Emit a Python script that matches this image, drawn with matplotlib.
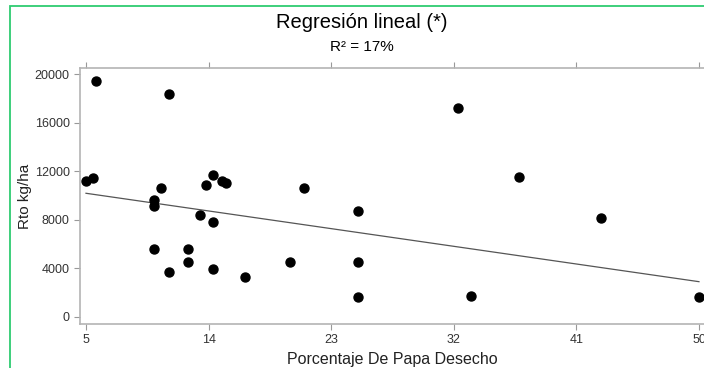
import matplotlib.pyplot as plt
from matplotlib.patches import Rectangle

plt.rcParams['font.family'] = ['Liberation Sans', 'DejaVu Sans']

# data
pct_desecho = [5, 5.5, 5.7, 10, 10, 10, 10.5, 11.1, 11.1, 12.5, 12.5, 13.4, 13.8,
               14.3, 14.3, 14.3, 15, 15.3, 16.7, 20, 21, 25, 25, 25, 32.3, 33.3,
               36.8, 42.8, 50]
rto = [11200, 11400, 19400, 9600, 9150, 5600, 10600, 18350, 3650, 5550, 4500, 8400,
       10850, 11650, 7800, 3900, 11200, 11050, 3300, 4500, 10600, 8700, 4500, 1650,
       17200, 1700, 11500, 8100, 1600]
# regression line as drawn (end points)
line_x = [5, 50]
line_y = [10180, 2890]
x_ticks = [5, 14, 23, 32, 41, 50]
y_ticks = [0, 4000, 8000, 12000, 16000, 20000]

fig = plt.figure(figsize=(7.04, 3.68), dpi=100)
ax = fig.add_axes([80 / 704, 44 / 368, 624 / 704, 256 / 368])

ax.scatter(pct_desecho, rto, s=42, color='black', zorder=3, clip_on=False)
ax.plot(line_x, line_y, color='#555555', lw=0.9, zorder=2)

ax.set_xlim(4.56, 50.37)
ax.set_ylim(-600, 20510)
ax.set_xticks(x_ticks)
ax.set_yticks(y_ticks)

for s in ['left', 'bottom', 'top']:
    ax.spines[s].set_color('#b4b4b4')
    ax.spines[s].set_linewidth(1.2)
ax.spines['right'].set_visible(False)
ax.tick_params(axis='both', colors='#999999', labelcolor='#333333', labelsize=9,
               length=4, width=0.8)
ax.tick_params(axis='x', top=True, labeltop=False)

ax.set_xlabel('Porcentaje De Papa Desecho', fontsize=11.5, color='#222222', labelpad=4)
ax.set_ylabel('Rto kg/ha', fontsize=11, color='#222222', labelpad=2)

fig.text(362 / 704, 0.938, 'Regresión lineal (*)', ha='center', va='center', fontsize=14.5)
fig.text(362 / 704, 0.873, 'R² = 17%', ha='center', va='center', fontsize=11)

# green frame around the figure
fig.patches.append(Rectangle((10 / 704, -0.1), 1.2, (368 - 5.5) / 368 + 0.1,
                             transform=fig.transFigure, fill=False,
                             edgecolor='#2ecc71', lw=1.3))

fig.savefig('out.png', dpi=100)
